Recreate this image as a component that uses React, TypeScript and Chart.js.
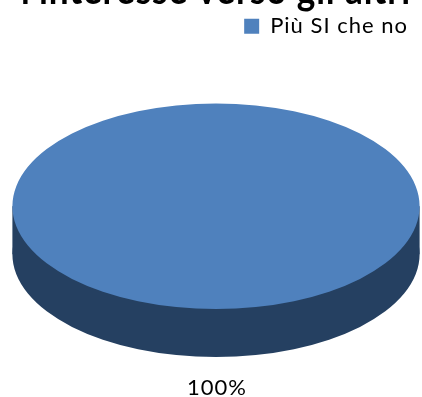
import React, { useEffect, useRef } from "react";
import { Chart, registerables } from "chart.js";

Chart.register(...registerables);

const categories = ["Più SI che no"];
const seriesValues = [100];
const titleText = "l'interesse verso gli altri";
const sliceColors = ["#4F81BD"];
const sideColor = "#254061";

const FONT = "Lato, 'Open Sans', sans-serif";
const X_STRETCH = 204 / 103;
const DEPTH = 48;

const spacing = (chart: any) => {
  chart.ctx.letterSpacing = "1px";
};

const pie3d = {
  id: "pie3d",
  beforeUpdate: spacing,
  beforeDraw: spacing,
  beforeDatasetDraw(chart: any, args: any) {
    const { ctx } = chart;
    const meta = args.meta;
    const first = meta.data[0];
    ctx.save();
    ctx.translate(first.x, first.y);
    ctx.scale(X_STRETCH, 1);
    ctx.translate(-first.x, -first.y);
    const r = first.outerRadius;
    ctx.fillStyle = sideColor;
    ctx.fillRect(first.x - r, first.y, r * 2, DEPTH);
    ctx.save();
    ctx.translate(0, DEPTH);
    meta.data.forEach((arc: any) => {
      const original = arc.options;
      arc.options = { ...original, backgroundColor: sideColor, borderWidth: 0 };
      arc.draw(ctx);
      arc.options = original;
    });
    ctx.restore();
  },
  afterDatasetDraw(chart: any) {
    chart.ctx.restore();
  },
  afterDraw(chart: any) {
    const { ctx } = chart;
    const meta = chart.getDatasetMeta(0);
    const values = chart.data.datasets[0].data as number[];
    const total = values.reduce((a, b) => a + b, 0);
    ctx.save();
    ctx.fillStyle = "#000";
    ctx.font = `22px ${FONT}`;
    ctx.textAlign = "center";
    ctx.textBaseline = "middle";
    meta.data.forEach((arc: any, i: number) => {
      ctx.fillText(`${Math.round((values[i] / total) * 100)}%`, arc.x + 1, arc.y + arc.outerRadius + 79);
    });
    ctx.restore();
  },
};

export default function App() {
  const ref = useRef<HTMLCanvasElement>(null);
  useEffect(() => {
    const chart = new Chart(ref.current!, {
      type: "pie",
      data: {
        labels: categories,
        datasets: [{ data: seriesValues, backgroundColor: sliceColors, borderWidth: 0 }],
      },
      options: {
        animation: false,
        responsive: false,
        layout: { padding: { left: 21, right: 11, top: 0, bottom: 88 } },
        plugins: {
          title: {
            display: true,
            text: titleText,
            color: "#000",
            font: { family: FONT, size: 41, weight: "bold" },
            padding: { top: -34, bottom: -3 },
          },
          legend: {
            position: "top",
            align: "end",
            weight: 1800,
            labels: {
              color: "#000",
              font: { family: FONT, size: 22 },
              boxWidth: 15,
              boxHeight: 15,
              padding: 3,
            },
          },
          subtitle: {
            display: true,
            text: "",
            font: { size: 1 },
            padding: { top: 0, bottom: 55 },
          },
          tooltip: { enabled: false },
        },
      } as any,
      plugins: [pie3d],
    });
    return () => chart.destroy();
  }, []);
  return (
    <canvas
      ref={ref}
      width={422}
      height={397}
      style={{ position: "fixed", left: 0, top: 0, display: "block" }}
    />
  );
}
